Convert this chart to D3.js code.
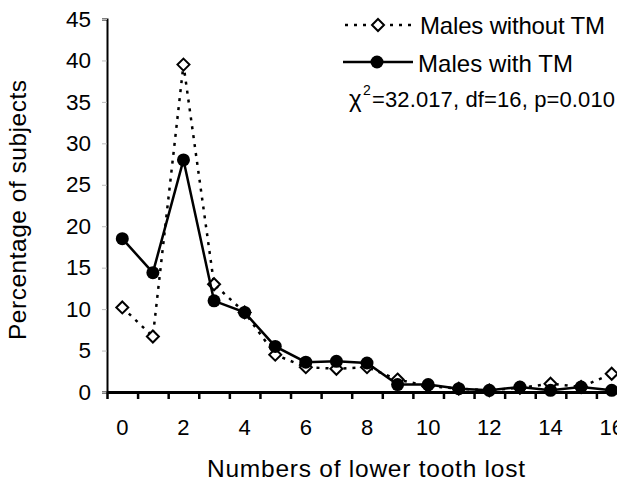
<!DOCTYPE html>
<html>
<head>
<meta charset="utf-8">
<script src="https://cdn.jsdelivr.net/npm/d3@7/dist/d3.min.js"></script>
<style>
  body { margin: 0; background: #fff; }
  svg text { font-family: Arial, "Liberation Sans", sans-serif; fill: #000; }
</style>
</head>
<body>
<div id="chart"></div>
<script>
// teeth lost (categories)
var teeth = [0, 1, 2, 3, 4, 5, 6, 7, 8, 9, 10, 11, 12, 13, 14, 15, 16];
// % of subjects
var withoutTM = [10.2, 6.7, 39.5, 13.0, 9.6, 4.5, 3.0, 2.8, 3.0, 1.5, 0.7, 0.4, 0.2, 0.5, 1.0, 0.6, 2.2];
var withTM = [18.5, 14.4, 28.0, 11.0, 9.6, 5.5, 3.6, 3.7, 3.5, 0.9, 0.9, 0.4, 0.2, 0.6, 0.2, 0.6, 0.2];
var yTicks = [0, 5, 10, 15, 20, 25, 30, 35, 40, 45];
var xLabels = [0, 2, 4, 6, 8, 10, 12, 14, 16];
var legendNames = ["Males without TM", "Males with TM"];

var width = 617, height = 483;
var svg = d3.select("#chart").append("svg")
    .attr("width", width).attr("height", height);

// category axis: ticks sit between categories
var x = d3.scaleLinear().domain([-0.5, 16.5]).range([107, 627]);
var y = d3.scaleLinear().domain([0, 45]).range([392, 19]);

// y axis
var yAxis = svg.append("g").attr("transform", "translate(107,0)")
    .call(d3.axisLeft(y).tickValues(yTicks).tickSize(5).tickPadding(11));
yAxis.select(".domain").attr("stroke", "#000").attr("stroke-width", 2);
yAxis.selectAll(".tick line").attr("stroke", "#bbb");
yAxis.selectAll(".tick text").attr("font-size", 22.5).attr("fill", "#000");

// x axis
var xTickPos = d3.range(0, 18).map(function(k){ return k - 0.5; });
var xAxis = svg.append("g").attr("transform", "translate(0,392)")
    .call(d3.axisBottom(x).tickValues(xTickPos).tickSizeInner(7).tickSizeOuter(0).tickFormat(""));
xAxis.select(".domain").attr("stroke", "#000").attr("stroke-width", 3);
xAxis.selectAll(".tick line").attr("stroke", "#000").attr("stroke-width", 2.5);

svg.append("g").selectAll("text").data(xLabels).enter().append("text")
    .attr("x", function(d){ return x(d); })
    .attr("y", 435)
    .attr("text-anchor", "middle")
    .attr("font-size", 22)
    .text(function(d){ return d; });

// axis titles
svg.append("text")
    .attr("x", 366).attr("y", 477)
    .attr("text-anchor", "middle")
    .attr("font-size", 24.5)
    .attr("textLength", 318)
    .text("Numbers of lower tooth lost");

svg.append("text")
    .attr("transform", "translate(26,210) rotate(-90)")
    .attr("text-anchor", "middle")
    .attr("font-size", 24.5)
    .attr("textLength", 260)
    .text("Percentage of subjects");

var line = d3.line()
    .x(function(d, i){ return x(teeth[i]); })
    .y(function(d){ return y(d); });

function diamond(g, cx, cy) {
    g.append("path")
        .attr("d", "M" + cx + "," + (cy - 6) + "L" + (cx + 6) + "," + cy + "L" + cx + "," + (cy + 6) + "L" + (cx - 6) + "," + cy + "Z")
        .attr("fill", "#fff").attr("stroke", "#000").attr("stroke-width", 2);
}

// males without TM: dotted + open diamonds
var g1 = svg.append("g");
g1.append("path").attr("d", line(withoutTM))
    .attr("fill", "none").attr("stroke", "#000").attr("stroke-width", 2.5)
    .attr("stroke-dasharray", "3,6");
withoutTM.forEach(function(v, i){ diamond(g1, x(teeth[i]), y(v)); });

// males with TM: solid + filled circles
var g2 = svg.append("g");
g2.append("path").attr("d", line(withTM))
    .attr("fill", "none").attr("stroke", "#000").attr("stroke-width", 2.5);
g2.selectAll("circle").data(withTM).enter().append("circle")
    .attr("cx", function(d, i){ return x(teeth[i]); })
    .attr("cy", function(d){ return y(d); })
    .attr("r", 6.5).attr("fill", "#000");

// legend
var lg = svg.append("g");
lg.append("line").attr("x1", 345).attr("x2", 415).attr("y1", 25).attr("y2", 25)
    .attr("stroke", "#000").attr("stroke-width", 2.5).attr("stroke-dasharray", "3,6");
diamond(lg, 378, 25);
lg.append("text").attr("x", 420).attr("y", 34).attr("font-size", 24)
    .attr("textLength", 185).text(legendNames[0]);

lg.append("line").attr("x1", 343).attr("x2", 413).attr("y1", 62).attr("y2", 62)
    .attr("stroke", "#000").attr("stroke-width", 2.5);
lg.append("circle").attr("cx", 377).attr("cy", 62).attr("r", 6.5).attr("fill", "#000");
lg.append("text").attr("x", 418).attr("y", 72).attr("font-size", 24)
    .attr("textLength", 155).text(legendNames[1]);

var chi = lg.append("g");
chi.append("text").attr("x", 349).attr("y", 107).attr("font-size", 24).text("χ");
chi.append("text").attr("x", 363).attr("y", 95).attr("font-size", 14).text("2");
chi.append("text").attr("x", 372).attr("y", 107).attr("font-size", 22)
    .attr("textLength", 243).text("=32.017, df=16, p=0.010");
</script>
</body>
</html>
